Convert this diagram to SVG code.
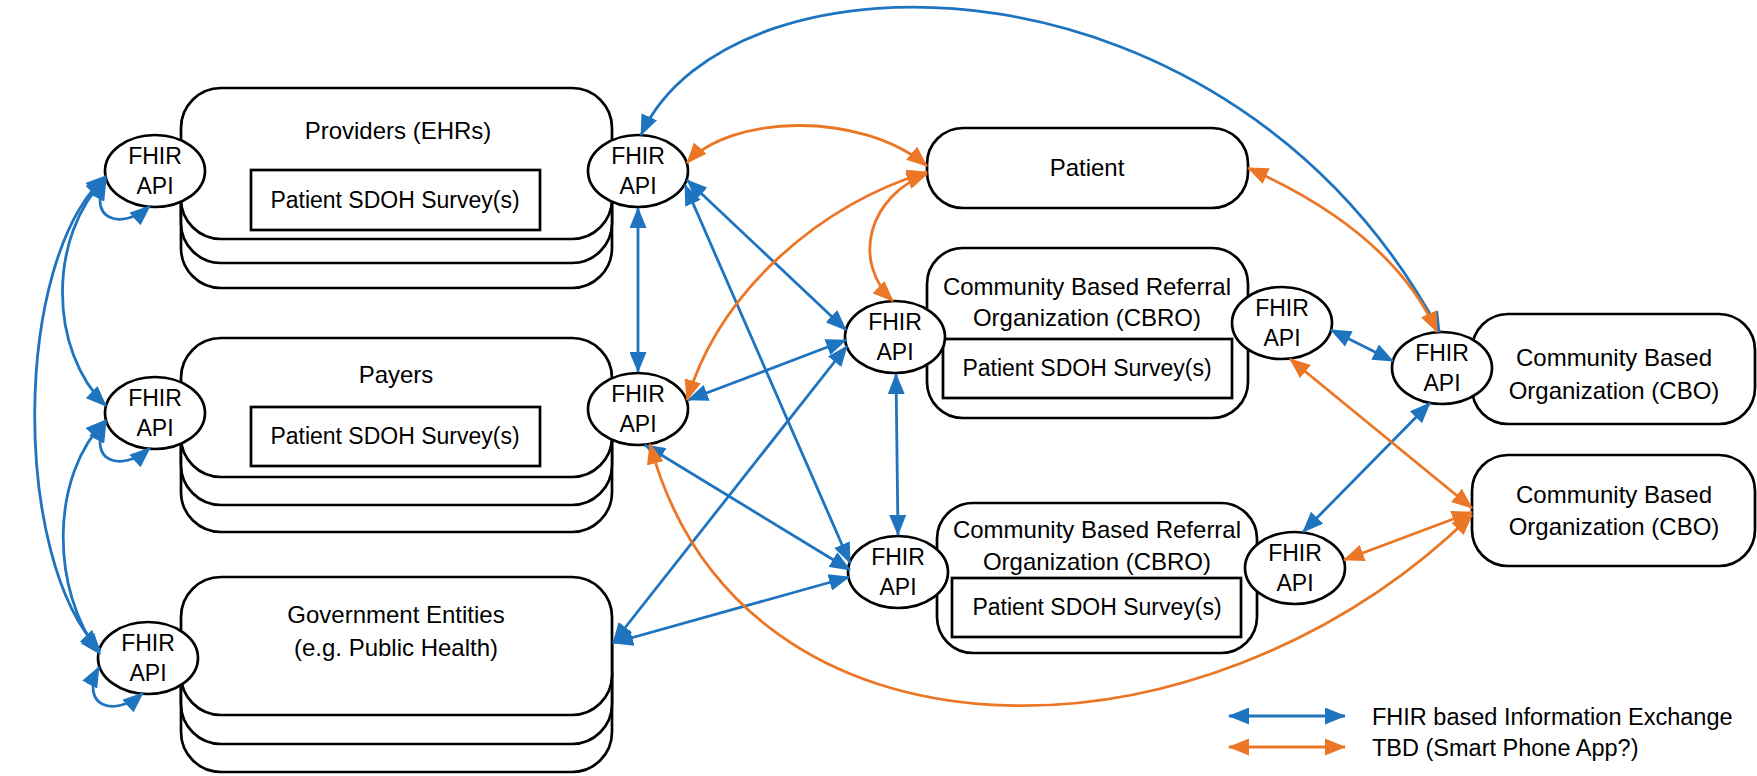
<svg xmlns="http://www.w3.org/2000/svg" width="1757" height="776" viewBox="0 0 1757 776">
<style>
.box{fill:#fff;stroke:#000;stroke-width:2.7}
.api{fill:#fff;stroke:#000;stroke-width:2.7}
text{font-family:"Liberation Sans",Arial,sans-serif;font-size:23px;fill:#000;text-anchor:middle}
.t{font-size:24px}
.lg{text-anchor:start;font-size:23.5px}
.b{fill:none;stroke:#1F74C0;stroke-width:2.8;marker-start:url(#ab);marker-end:url(#ab)}
.o{fill:none;stroke:#EB7625;stroke-width:2.8;marker-start:url(#ao);marker-end:url(#ao)}
</style>
<defs>
<marker id="ab" markerUnits="userSpaceOnUse" markerWidth="21" markerHeight="17" viewBox="0 0 21 17" refX="20" refY="8.5" orient="auto-start-reverse"><path d="M0,0 L21,8.5 L0,17 z" fill="#1F74C0"/></marker>
<marker id="ao" markerUnits="userSpaceOnUse" markerWidth="21" markerHeight="17" viewBox="0 0 21 17" refX="20" refY="8.5" orient="auto-start-reverse"><path d="M0,0 L21,8.5 L0,17 z" fill="#EB7625"/></marker>
</defs>
<rect width="1757" height="776" fill="#fff"/>

<g id="providers">
<rect class="box" x="181" y="137" width="431" height="151" rx="40"/>
<rect class="box" x="181" y="112" width="431" height="151" rx="40"/>
<rect class="box" x="181" y="88" width="431" height="151" rx="40"/>
<text class="t" x="398" y="139">Providers (EHRs)</text>
<rect class="box" x="251" y="170" width="289" height="60"/>
<text x="395" y="208">Patient SDOH Survey(s)</text>
</g>
<g id="payers">
<rect class="box" x="181" y="393" width="431" height="139" rx="40"/>
<rect class="box" x="181" y="366" width="431" height="139" rx="40"/>
<rect class="box" x="181" y="338" width="431" height="139" rx="40"/>
<text class="t" x="396" y="383">Payers</text>
<rect class="box" x="251" y="407" width="289" height="59"/>
<text x="395" y="444">Patient SDOH Survey(s)</text>
</g>
<g id="government">
<rect class="box" x="181" y="634" width="431" height="138" rx="40"/>
<rect class="box" x="181" y="606" width="431" height="138" rx="40"/>
<rect class="box" x="181" y="577" width="431" height="138" rx="40"/>
<text class="t" x="396" y="623">Government Entities</text>
<text class="t" x="396" y="656">(e.g. Public Health)</text>
</g>
<g id="patient">
<rect class="box" x="927" y="128" width="321" height="80" rx="36"/>
<text class="t" x="1087" y="176">Patient</text>
</g>
<g id="cbro1">
<rect class="box" x="927" y="248" width="321" height="170" rx="36"/>
<text class="t" x="1087" y="295">Community Based Referral</text>
<text class="t" x="1087" y="326">Organization (CBRO)</text>
<rect class="box" x="943" y="339" width="289" height="59"/>
<text x="1087" y="376">Patient SDOH Survey(s)</text>
</g>
<g id="cbro2">
<rect class="box" x="937" y="503" width="320" height="150" rx="36"/>
<text class="t" x="1097" y="538">Community Based Referral</text>
<text class="t" x="1097" y="570">Organization (CBRO)</text>
<rect class="box" x="952" y="578" width="289" height="59"/>
<text x="1097" y="615">Patient SDOH Survey(s)</text>
</g>
<g id="cbo1">
<rect class="box" x="1472" y="314" width="283" height="110" rx="36"/>
<text class="t" x="1614" y="366">Community Based</text>
<text class="t" x="1614" y="399">Organization (CBO)</text>
</g>
<g id="cbo2">
<rect class="box" x="1472" y="455" width="283" height="111" rx="36"/>
<text class="t" x="1614" y="503">Community Based</text>
<text class="t" x="1614" y="535">Organization (CBO)</text>
</g>

<g id="api-providers-left"><ellipse class="api" cx="155" cy="171" rx="50" ry="36"/><text x="155" y="164">FHIR</text><text x="155" y="194">API</text></g>
<g id="api-payers-left"><ellipse class="api" cx="155" cy="413" rx="50" ry="36"/><text x="155" y="406">FHIR</text><text x="155" y="436">API</text></g>
<g id="api-gov-left"><ellipse class="api" cx="148" cy="658" rx="50" ry="36"/><text x="148" y="651">FHIR</text><text x="148" y="681">API</text></g>
<g id="api-providers-right"><ellipse class="api" cx="638" cy="171" rx="50" ry="36"/><text x="638" y="164">FHIR</text><text x="638" y="194">API</text></g>
<g id="api-payers-right"><ellipse class="api" cx="638" cy="409" rx="50" ry="36"/><text x="638" y="402">FHIR</text><text x="638" y="432">API</text></g>
<g id="api-cbro1-left"><ellipse class="api" cx="895" cy="337" rx="50" ry="36"/><text x="895" y="330">FHIR</text><text x="895" y="360">API</text></g>
<g id="api-cbro1-right"><ellipse class="api" cx="1282" cy="323" rx="50" ry="36"/><text x="1282" y="316">FHIR</text><text x="1282" y="346">API</text></g>
<g id="api-cbro2-left"><ellipse class="api" cx="898" cy="572" rx="50" ry="36"/><text x="898" y="565">FHIR</text><text x="898" y="595">API</text></g>
<g id="api-cbro2-right"><ellipse class="api" cx="1295" cy="568" rx="50" ry="36"/><text x="1295" y="561">FHIR</text><text x="1295" y="591">API</text></g>
<g id="api-cbo1"><ellipse class="api" cx="1442" cy="368" rx="50" ry="36"/><text x="1442" y="361">FHIR</text><text x="1442" y="391">API</text></g>

<g id="connectors">
<path class="b" d="M106,178 C48,235 48,350 106,406"/>
<path class="b" d="M106,176 C12,260 12,560 100,650"/>
<path class="b" d="M106,420 C50,475 50,590 100,654"/>
<path class="b" d="M106,180 C86,218 120,232 150,206"/>
<path class="b" d="M106,422 C86,460 120,474 150,448"/>
<path class="b" d="M99,667 C79,705 113,719 143,693"/>
<path class="b" d="M638,208 L638,372"/>
<path class="b" d="M687,180 L846,330"/>
<path class="b" d="M685,185 L850,563"/>
<path class="b" d="M688,400 L846,340"/>
<path class="b" d="M645,445 L850,570"/>
<path class="b" d="M613,643 L847,346"/>
<path class="b" d="M613,643 L849,577"/>
<path class="b" d="M896,374 L898,535"/>
<path class="b" d="M1331,330 L1393,361"/>
<path class="b" d="M1430,403 L1303,532"/>
<path class="b" d="M641,135 C730,-60 1230,-60 1440,332"/>
<path class="o" d="M687,163 C730,115 860,110 927,166"/>
<path class="o" d="M927,172 C820,205 720,290 687,400"/>
<path class="o" d="M927,174 C870,195 850,260 893,301"/>
<path class="o" d="M1248,168 C1320,200 1400,250 1437,332"/>
<path class="o" d="M1290,359 L1472,508"/>
<path class="o" d="M1344,560 L1472,512"/>
<path class="o" d="M650,444 C740,780 1200,780 1472,515"/>
</g>

<g id="legend">
<path class="b" d="M1229,716 L1345,716"/>
<path class="o" d="M1229,747 L1345,747"/>
<text class="lg" x="1372" y="725">FHIR based Information Exchange</text>
<text class="lg" x="1372" y="756">TBD (Smart Phone App?)</text>
</g>
</svg>
